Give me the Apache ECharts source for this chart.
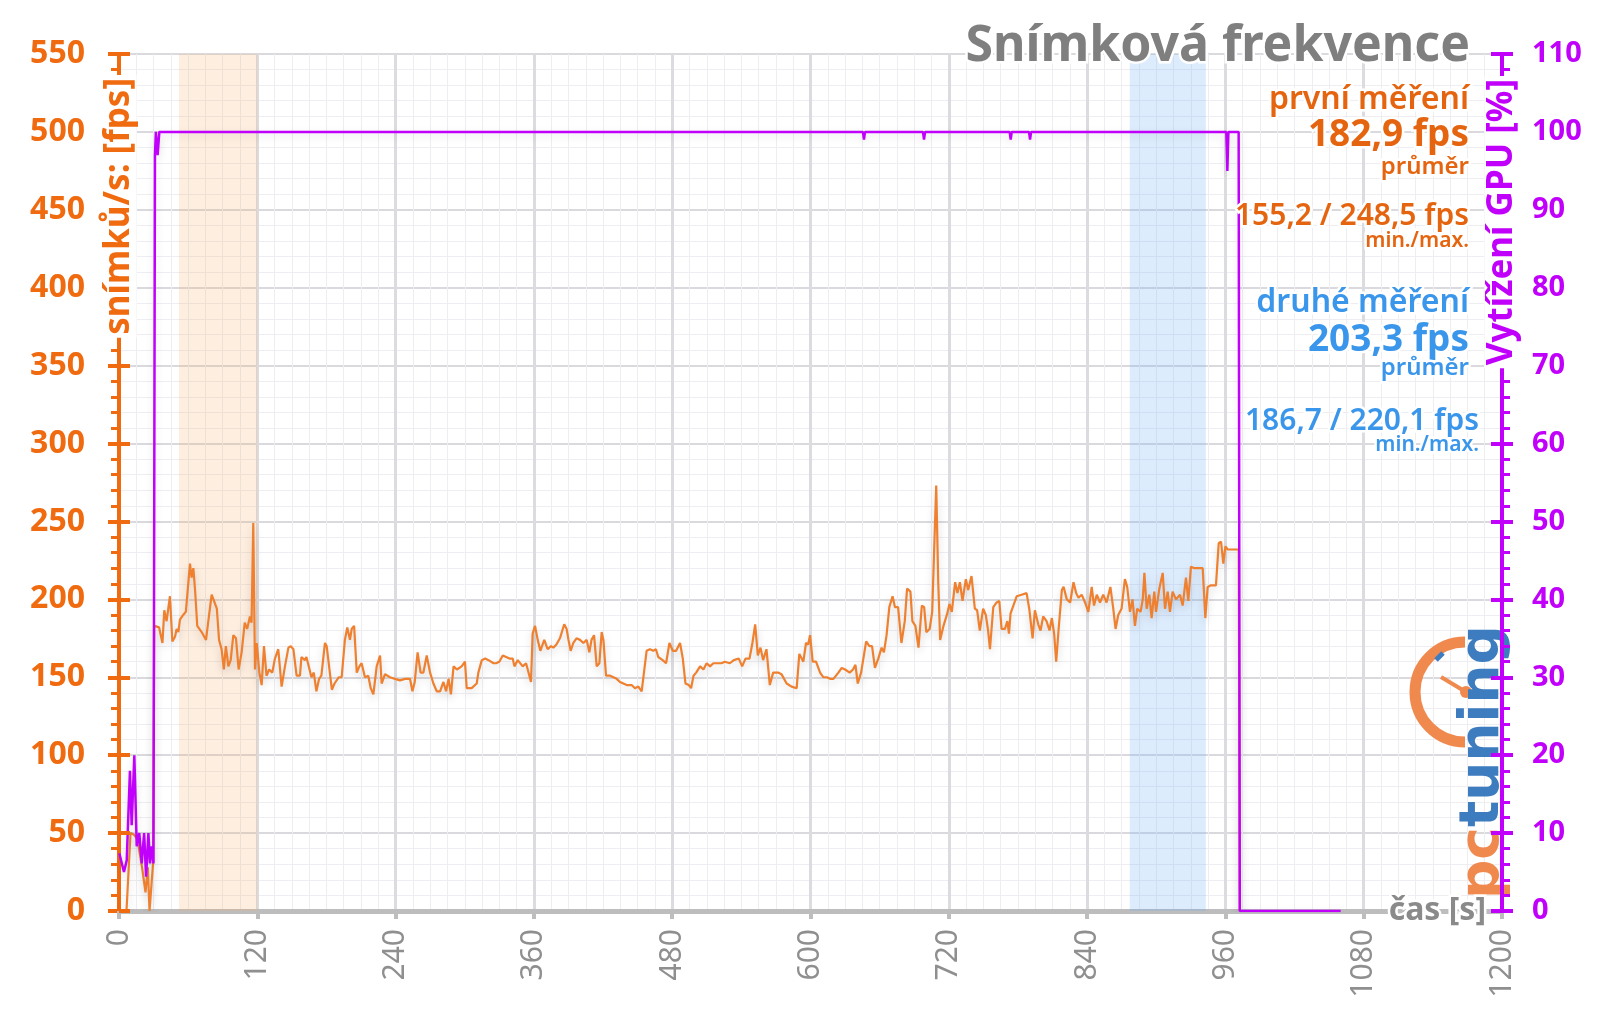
<!DOCTYPE html>
<html>
<head>
<meta charset="utf-8">
<script src="https://cdn.jsdelivr.net/npm/echarts@6/dist/echarts.min.js"></script>
<style>html,body{margin:0;padding:0;background:#fff}#c{width:1600px;height:1009px}</style>
</head>
<body>
<div id="c"></div>
<script>
// ---- data ----
const titleText = 'Snímková frekvence';
const fpsAxisName = 'snímků/s: [fps]';
const gpuAxisName = 'Vytížení GPU [%]';
const timeAxisName = 'čas [s]';
const xTicks = { min: 0, max: 1200, step: 120 };
const fpsTicks = { min: 0, max: 550, step: 50 };
const gpuTicks = { min: 0, max: 110, step: 10 };
const firstBand = [52, 120];
const secondBand = [877, 943];
const firstStats = ['první měření', '182,9 fps', 'průměr', '155,2 / 248,5 fps', 'min./max.'];
const secondStats = ['druhé měření', '203,3 fps', 'průměr', '186,7 / 220,1 fps', 'min./max.'];

// [time s, fps]
const fpsSamples = [[0,0],[6.5,0],[10,50],[13,49],[16,46],[20,28],[23,12],[25,28],[26.5,0],[29.5,30],[30.6,183],[34.8,182],[37.7,172],[39.3,193],[41.3,186],[44.2,202],[46.3,173],[48.6,176],[50,181],[51.5,179],[52.9,187],[55.7,190],[58,192],[59.5,191],[61.6,223],[63,214],[64.5,220],[66,206],[67.9,183],[71.7,179],[75.5,174],[77.5,186],[80.4,203],[84.9,194],[86.8,174],[89,168],[91,155],[92.7,170],[94.9,157],[96.9,161],[99.2,177],[101.5,175],[103.8,155],[106.4,166],[109.1,185],[111.2,181],[113.6,189],[115,185],[116.5,249],[118,155],[119.5,172],[121.8,153],[123.8,145],[125.8,170],[128,151],[130.3,155],[133,153],[135.3,162],[138.2,168],[141.1,144],[144,157],[147,169],[149,170],[151.3,168],[154.1,151],[157,151],[158.3,163],[161.2,161],[162.6,163],[167,150],[169,153],[171.3,141],[173.6,149],[175.6,151],[178.7,172],[180.2,170],[184.7,142],[187,146],[190.6,150],[193.2,150],[196,174],[198.1,182],[200.4,174],[201.9,181],[204,183],[206.3,153],[208.6,157],[210.5,159],[213.4,150],[216.3,151],[218.4,143],[220.7,139],[223.6,157],[226.5,164],[227.9,146],[230.8,152],[235.1,150],[239.5,149],[243.8,148],[248.2,149],[252.5,149],[254.6,141],[256.6,147],[259.1,166],[261.7,153],[264.1,153],[267,164],[269.9,153],[272.8,146],[275.7,141],[278.6,141],[281.5,147],[283.8,141],[286,149],[288,139],[290.3,157],[293.2,155],[297.3,157],[300.2,160],[301.7,143],[306,143],[310.4,146],[311.8,153],[314.8,161],[317.7,162],[320.6,161],[322,160],[325,159],[327.1,159],[330,160],[333,164],[335.9,163],[338.8,162],[341.6,162],[343.1,157],[346,161],[350.3,157],[353.2,159],[357.5,147],[358.9,178],[361,183],[363.3,174],[365.6,167],[369,174],[371.9,168],[374.8,170],[376.9,169],[379.5,171],[382.6,175],[384,174],[386.3,184],[388.4,181],[390,174],[391.9,167],[394.2,172],[397,175],[400,174],[402.9,172],[405.8,174],[408.1,166],[410,174],[412.2,177],[414.5,157],[416.8,159],[418.8,179],[420.3,174],[422.6,151],[426.1,151],[429,150],[431.8,149],[434.7,147],[437.6,146],[440.5,145],[444.8,145],[447.7,143],[450.6,144],[453.5,141],[455.5,153],[457.8,167],[460.7,168],[463.6,167],[465.9,168],[467.9,163],[469.4,164],[471.7,161],[474.7,159],[477.6,172],[480.5,167],[483.4,167],[486.8,172],[489.2,162],[491.5,146],[494.4,145],[496.4,143],[498.5,151],[500.8,153],[504.2,157],[507.1,155],[509.9,159],[512.8,157],[515.7,159],[519.4,159],[522.7,159],[525.6,160],[530,159],[533.5,161],[537.8,162],[540.7,157],[543.6,162],[547.1,162],[549.6,172],[552,184],[554.3,164],[556.6,169],[558.9,161],[561.8,168],[564.7,145],[567.6,153],[571.9,153],[574.8,152],[576.4,151],[579.3,146],[583.6,144],[588,143],[590.3,165],[593.8,160],[596.1,172],[598,171],[599.6,177],[601.9,160],[604.8,160],[608.3,153],[611.2,150],[614.1,150],[617,149],[619.9,149],[624.2,153],[627.1,156],[630,155],[634,153],[636.9,155],[639,158],[641,146],[643.9,153],[648.3,173],[651.1,170],[653.4,170],[655.9,156],[658.8,162],[661.7,169],[663.7,166],[666,177],[668.4,195],[671.2,202],[673.3,195],[676,195],[678.9,172],[681.8,186],[683.8,207],[686.7,205],[688.4,186],[691,183],[693.7,169],[696.6,196],[698.6,195],[700.5,179],[703.4,181],[705.6,192],[707.3,232],[709.1,273],[710.8,212],[712.5,174],[715.4,183],[718.3,190],[720.6,197],[722.6,192],[725.5,211],[727.5,204],[729.6,211],[731.9,199],[734.8,213],[736.8,206],[739.7,215],[742.6,194],[744.6,193],[746.9,180],[749.8,194],[752.1,190],[754.1,180],[755.7,168],[758.6,195],[761.5,198],[763.8,199],[765.8,181],[768.7,181],[770.8,186],[772.2,178],[773.6,191],[776.5,197],[778.9,202],[783.2,203],[787.5,204],[789.8,194],[792.7,175],[794.7,193],[797.6,184],[799.6,180],[801.9,189],[804.8,186],[807.4,180],[809.4,188],[811.4,178],[813.2,160],[815.2,180],[818.1,206],[819.6,208],[822.4,200],[825.3,198],[828.2,211],[830.5,204],[832.5,201],[835.3,203],[838.2,198],[841.1,192],[844,208],[846,196],[848.4,203],[851.2,198],[854,203],[856.9,198],[860.2,208],[862.7,194],[864.7,181],[867,190],[869.9,194],[872.8,213],[874.8,208],[877.2,192],[879.4,200],[881.5,183],[883.5,194],[886.4,192],[888.3,200],[889.7,217],[891.7,194],[894,203],[896,188],[898.3,205],[899.8,192],[902.7,207],[905.6,217],[907.6,194],[909.9,205],[911.9,192],[914.2,205],[917.1,200],[920.6,203],[922.9,196],[925.8,214],[927.8,199],[930.1,221],[933,220],[935.9,220],[940.3,220],[942.6,188],[944.6,208],[947.5,209],[951.8,209],[954.2,236],[956.2,237],[958.2,223],[960,234],[962,232],[966.4,232],[971.6,232],[972.5,0]];

// [time s, GPU %]
const gpuSamples = [[0.3,7.4],[4.3,5],[6.7,6.5],[9.5,18],[11,11],[13.3,20],[15.4,8.3],[17.6,10],[19.7,6.1],[21.8,10],[23.5,4.4],[25.5,10],[26.9,6.1],[28.4,8.3],[29.9,6.1],[31.2,97],[32,100],[33.5,97],[35,100],[645.5,100],[646.4,99],[647.3,100],[697.6,100],[698.5,99],[699.4,100],[772.8,100],[773.7,99],[774.6,100],[789.6,100],[790.5,99],[791.4,100],[960.8,100],[961.7,95],[962.6,100],[971.5,100],[972.5,0],[1060,0]];

// ---- style ----
const FONT = 'Noto Sans';
const ORANGE = '#F06A0F';
const ORANGE_TXT = '#E5640F';
const ORANGE_LINE = '#EE8030';
const PURPLE = '#C000FA';
const BLUE = '#3A96EA';
const GRAY = '#8a8a8a';
const LOGO_O = '#F0894E';
const LOGO_B = '#3E7CC0';
const G = { left: 119, right: 98, top: 54, bottom: 98 };

const chart = echarts.init(document.getElementById('c'), null, { renderer: 'canvas' });

function yAxisBase(t, pos, color) {
  return {
    type: 'value', min: t.min, max: t.max, interval: t.step, position: pos,
    axisLine: { show: true, lineStyle: { color: color, width: 4 } },
    axisTick: { show: true, length: 11, lineStyle: { color: color, width: 4 } },
    minorTick: { show: true, splitNumber: 5, length: 8, lineStyle: { color: color, width: 3 } },
    splitLine: { show: false },
    axisLabel: { show: true }
  };
}

const yFps = yAxisBase(fpsTicks, 'left', ORANGE);
Object.assign(yFps, {
  axisLabel: { color: ORANGE, fontSize: 32, fontWeight: 'bold', fontFamily: FONT, margin: 34 },
  splitLine: { show: true, lineStyle: { color: '#dadade', width: 2 } },
  minorSplitLine: { show: true, lineStyle: { color: '#eeeef2', width: 1 } }
});
const yGpu = yAxisBase(gpuTicks, 'right', PURPLE);
Object.assign(yGpu, {
  z: 6,
  axisLabel: { color: PURPLE, fontSize: 29, fontWeight: 'bold', fontFamily: FONT, margin: 30 }
});
function innerTicks(t, pos, color) {
  return {
    type: 'value', min: t.min, max: t.max, interval: t.step, position: pos, z: 6,
    axisLine: { show: false }, axisLabel: { show: false }, splitLine: { show: false },
    axisTick: { show: true, inside: true, length: 11, lineStyle: { color: color, width: 4 } }
  };
}

function statText(text, x, y, size, weight, color) {
  return { type: 'text', x: x, y: y, z: 10, silent: true,
    style: { text: text, align: 'right', verticalAlign: 'middle', fill: color, fontSize: size, fontWeight: weight,
      fontFamily: FONT, stroke: '#fff', lineWidth: 5 } };
}
function axisNameText(text, x, y, color, size) {
  return { type: 'text', x: x, y: y, z: 20, silent: true, rotation: Math.PI / 2,
    style: { text: text, align: 'right', verticalAlign: 'middle', fill: color, fontSize: size, fontWeight: 'bold',
      fontFamily: FONT, backgroundColor: '#fff', padding: [0, 3, 0, 3] } };
}

const option = {
  backgroundColor: '#fff',
  animation: false,
  title: {
    text: titleText, right: 125, top: 22, padding: 0,
    textStyle: { fontFamily: FONT, fontSize: 50, fontWeight: 'bold', color: '#7f7f7f', textBorderColor: '#fff', textBorderWidth: 5 }
  },
  grid: { left: G.left, right: G.right, top: G.top, bottom: G.bottom, containLabel: false, outerBoundsMode: 'none' },
  xAxis: {
    type: 'value', min: xTicks.min, max: xTicks.max, interval: xTicks.step,
    axisLine: { show: true, lineStyle: { color: '#bdbdbd', width: 5 } },
    axisTick: { show: true, length: 8, lineStyle: { color: '#bdbdbd', width: 4 } },
    minorTick: { show: false, splitNumber: 8 },
    splitLine: { show: true, lineStyle: { color: '#dcdce0', width: 3 } },
    minorSplitLine: { show: true, lineStyle: { color: '#eeeef2', width: 1 } },
    axisLabel: { rotate: 90, color: '#8f8f8f', fontSize: 30, fontFamily: FONT, margin: 18, formatter: function (v) { return String(v); } }
  },
  yAxis: [yFps, yGpu, innerTicks(fpsTicks, 'left', ORANGE), innerTicks(gpuTicks, 'right', PURPLE)],
  graphic: [
    // logo
    { type: 'arc', z: 3, silent: true, shape: { cx: 1465, cy: 692, r: 50, startAngle: Math.PI / 2, endAngle: Math.PI * 1.5, clockwise: true },
      style: { stroke: LOGO_O, lineWidth: 11, fill: null } },
    { type: 'line', z: 3, silent: true, shape: { x1: 1441, y1: 677, x2: 1466, y2: 692 }, style: { stroke: LOGO_O, lineWidth: 4 } },
    { type: 'circle', z: 3, silent: true, shape: { cx: 1466, cy: 692, r: 6 }, style: { fill: LOGO_O } },
    { type: 'line', z: 3, silent: true, shape: { x1: 1436, y1: 660, x2: 1443, y2: 653 }, style: { stroke: LOGO_B, lineWidth: 5 } },
    { type: 'text', z: 3, silent: true, x: 1484, y: 899, rotation: Math.PI / 2,
      style: { text: '{a|pc}{b|tuning}', align: 'left', verticalAlign: 'middle',
        rich: { a: { fill: LOGO_O, fontSize: 55, fontWeight: 'bold', fontFamily: 'DejaVu Sans' },
                b: { fill: LOGO_B, fontSize: 55, fontWeight: 'bold', fontFamily: 'DejaVu Sans' } } } },
    axisNameText(fpsAxisName, G.left, 75, ORANGE, 35),
    axisNameText(gpuAxisName, 1600 - G.right, 76, PURPLE, 35),
    { type: 'text', z: 20, silent: true, x: 1486, y: 911,
      style: { text: timeAxisName, align: 'right', verticalAlign: 'middle', fill: GRAY, fontSize: 32, fontWeight: 'bold',
        fontFamily: FONT, stroke: '#fff', lineWidth: 5 } },
    // stats
    statText(firstStats[0], 1469, 100, 32, '600', ORANGE_TXT),
    statText(firstStats[1], 1469, 135, 37, 'bold', ORANGE_TXT),
    statText(firstStats[2], 1469, 167, 24, '600', ORANGE_TXT),
    statText(firstStats[3], 1469, 216, 30, '600', ORANGE_TXT),
    statText(firstStats[4], 1469, 241, 21, '600', ORANGE_TXT),
    statText(secondStats[0], 1469, 303, 32, '600', BLUE),
    statText(secondStats[1], 1469, 340, 37, 'bold', BLUE),
    statText(secondStats[2], 1469, 368, 24, '600', BLUE),
    statText(secondStats[3], 1479, 421, 30, '600', BLUE),
    statText(secondStats[4], 1479, 445, 21, '600', BLUE)
  ],
  series: [
    {
      type: 'line', name: 'bands', data: fpsSamples, yAxisIndex: 0, z: 1, silent: true,
      showSymbol: false, lineStyle: { opacity: 0 },
      markArea: {
        silent: true,
        data: [
          [{ xAxis: firstBand[0], itemStyle: { color: 'rgba(247,170,100,0.2)' } }, { xAxis: firstBand[1] }],
          [{ xAxis: secondBand[0], itemStyle: { color: 'rgba(100,170,245,0.22)' } }, { xAxis: secondBand[1] }]
        ]
      }
    },
    {
      type: 'line', name: 'fps', data: fpsSamples, yAxisIndex: 0, z: 4,
      showSymbol: false, smooth: false,
      lineStyle: { color: ORANGE_LINE, width: 2.2, shadowColor: 'rgba(0,0,0,0.16)', shadowBlur: 8, shadowOffsetY: 4 }
    },
    {
      type: 'line', name: 'gpu', data: gpuSamples, yAxisIndex: 1, z: 5,
      showSymbol: false, smooth: false,
      lineStyle: { color: PURPLE, width: 2.5, shadowColor: 'rgba(0,0,0,0.12)', shadowBlur: 8, shadowOffsetY: 3 }
    }
  ]
};

chart.setOption(option);
</script>
</body>
</html>
